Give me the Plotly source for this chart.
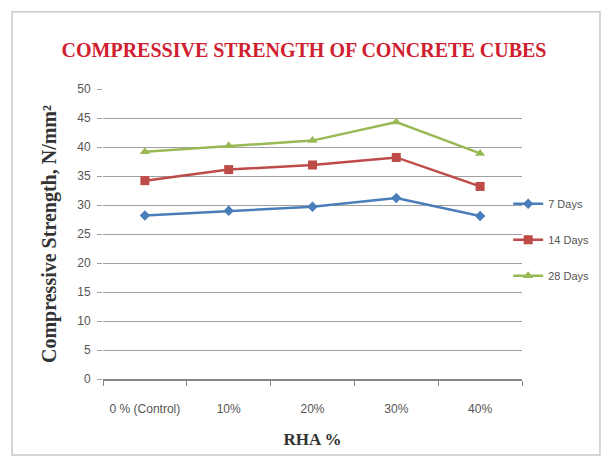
import plotly.graph_objects as go

# Replacement level of rice husk ash
rha_levels = ["0 % (Control)", "10%", "20%", "30%", "40%"]

# Cube compressive strength (N/mm²) at each curing age
strength_7_days = [28.2, 29.0, 29.7, 31.2, 28.1]
strength_14_days = [34.2, 36.1, 36.9, 38.2, 33.2]
strength_28_days = [39.2, 40.2, 41.1, 44.3, 38.9]

series = [
    ("7 Days", strength_7_days, "#4a7ebb", "diamond", 8),
    ("14 Days", strength_14_days, "#be4b48", "square", 9),
    ("28 Days", strength_28_days, "#98b954", "triangle-up", 9),
]

SERIF = "Liberation Serif, Times New Roman, serif"
SANS = "Liberation Sans Narrow, Arial Narrow, Liberation Sans, sans-serif"

fig = go.Figure()
for name, values, color, symbol, size in series:
    fig.add_trace(go.Scatter(
        x=rha_levels, y=values, name=name, legendgroup=name,
        mode="lines+markers",
        line=dict(color=color, width=2.5),
        marker=dict(symbol=symbol, size=size, color=color),
    ))

fig.update_layout(
    width=608, height=461,
    paper_bgcolor="white", plot_bgcolor="white",
    margin=dict(l=103, r=86, t=89, b=82, autoexpand=False),
    title=dict(
        text="<b>COMPRESSIVE STRENGTH OF CONCRETE CUBES</b>",
        font=dict(family=SERIF, size=20, color="#d02030"),
        x=0.5, xanchor="center", y=0.892, yanchor="middle",
    ),
    showlegend=True,
    legend=dict(
        x=0.967, xanchor="left", y=0.48, yanchor="middle",
        font=dict(family=SANS, size=11, color="#555555"),
        bgcolor="rgba(0,0,0,0)", itemwidth=30, tracegroupgap=17,
    ),
    xaxis=dict(
        type="category", range=[-0.5, 4.5],
        showgrid=False, showline=True, linecolor="#868686", linewidth=1.5,
        ticks="outside", tickson="boundaries", ticklen=5, tickcolor="#868686",
        ticklabelstandoff=18,
        tickfont=dict(family=SANS, size=12, color="#555555"),
        title=dict(text="<b>RHA %</b>", standoff=18,
                   font=dict(family=SERIF, size=17, color="#333333")),
    ),
    yaxis=dict(
        range=[0, 50], dtick=5, showgrid=True, gridcolor="#a0a0a0", gridwidth=1,
        zeroline=False, showline=False,
        ticks="outside", ticklen=5, tickcolor="#a0a0a0",
        ticklabelstandoff=4,
        tickfont=dict(family=SANS, size=12, color="#555555"),
        title=dict(text="<b>Compressive Strength, N/mm²</b>", standoff=15,
                   font=dict(family=SERIF, size=20, color="#333333")),
    ),
    shapes=[dict(
        type="rect", xref="paper", yref="paper",
        x0=-0.217, x1=1.186, y0=-0.262, y1=1.266,
        line=dict(color="#c8c8c8", width=1.5),
    )],
)

fig.write_html("out.html")
